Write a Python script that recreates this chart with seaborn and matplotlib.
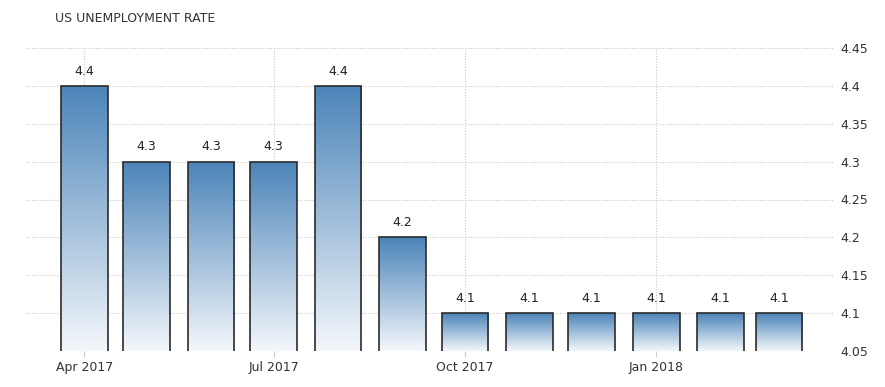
import datetime as dt
import numpy as np
import pandas as pd
import matplotlib
matplotlib.use("Agg")
import matplotlib.pyplot as plt
import matplotlib.dates as mdates
from matplotlib.colors import LinearSegmentedColormap
import seaborn as sns

# ---- data ----
months = ["2017-04-01", "2017-05-01", "2017-06-01", "2017-07-01", "2017-08-01", "2017-09-01",
          "2017-10-01", "2017-11-01", "2017-12-01", "2018-01-01", "2018-02-01", "2018-03-01"]
rates = [4.4, 4.3, 4.3, 4.3, 4.4, 4.2, 4.1, 4.1, 4.1, 4.1, 4.1, 4.1]
yticks = [4.05, 4.1, 4.15, 4.2, 4.25, 4.3, 4.35, 4.4, 4.45]
ytick_labels = ["4.05", "4.1", "4.15", "4.2", "4.25", "4.3", "4.35", "4.4", "4.45"]
xtick_dates = ["2017-04-01", "2017-07-01", "2017-10-01", "2018-01-01"]
xtick_labels = ["Apr 2017", "Jul 2017", "Oct 2017", "Jan 2018"]
title = "US UNEMPLOYMENT RATE"

sns.set_theme(style="white")
plt.rcParams["font.family"] = ["DejaVu Sans"]

dnum = mdates.date2num(pd.to_datetime(months))
df = pd.DataFrame({"date": dnum, "rate": rates})

fig = plt.figure(figsize=(8.85, 3.87), dpi=100)
ax = fig.add_axes([26 / 885, 1 - 351 / 387, (833 - 26) / 885, (351 - 48) / 387])

sns.barplot(data=df, x="date", y="rate", native_scale=True, width=0.8,
            color="#4f87bb", edgecolor="#2b2b2b", linewidth=1.2, ax=ax, zorder=3)

ymin, ymax = 4.05, 4.45
ax.set_ylim(ymin, ymax)
x0 = mdates.date2num(dt.datetime(2017, 3, 4))
x1 = mdates.date2num(dt.datetime(2018, 3, 27))
ax.set_xlim(x0, x1)

cmap = LinearSegmentedColormap.from_list("g", ["#f4f7fb", "#4b84b9"])
grad = np.linspace(0, 1, 256).reshape(-1, 1)
for p in ax.patches:
    bx, by = p.get_x(), p.get_y()
    w, h = p.get_width(), p.get_height()
    top = by + h
    im = ax.imshow(grad, cmap=cmap, origin="lower", aspect="auto",
                   extent=[bx, bx + w, ymin, top], zorder=2.5, interpolation="bicubic")
    im.set_clip_path(p)
    p.set_facecolor("none")
ax.set_xlim(x0, x1)
ax.set_ylim(ymin, ymax)

for p, v in zip(ax.patches, rates):
    ax.annotate(f"{v}", (p.get_x() + p.get_width() / 2, v), xytext=(0, 6),
                textcoords="offset points", ha="center", va="bottom",
                fontsize=9, color="#222222", zorder=4)

# grid & axes styling
ax.set_yticks(yticks)
ax.set_yticklabels(ytick_labels)
ax.yaxis.tick_right()
ax.set_xticks(mdates.date2num(pd.to_datetime(xtick_dates)))
ax.set_xticklabels(xtick_labels)
ax.grid(True, axis="both", linestyle=(0, (1, 1.5)), color="#c8c8c8", linewidth=0.8, zorder=0)
ax.set_axisbelow(True)
for s in ax.spines.values():
    s.set_visible(False)
ax.tick_params(axis="y", length=0, pad=5, labelsize=9, labelcolor="#333333")
ax.tick_params(axis="x", length=4, color="#cccccc", width=0.8, pad=3, labelsize=9,
               labelcolor="#333333", direction="out", bottom=True)
ax.set_xlabel("")
ax.set_ylabel("")

fig.text(55 / 885, 1 - 18 / 387, title, fontsize=9, color="#333333", va="center", ha="left")

fig.savefig("out.png", dpi=100)
